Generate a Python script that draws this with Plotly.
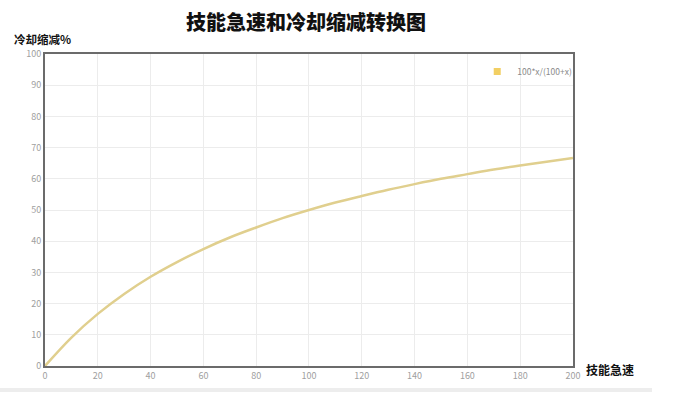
import plotly.graph_objects as go

x_vals = [0, 10, 20, 30, 40, 50, 60, 70, 80, 90, 100, 110, 120, 130, 140, 150, 160, 170, 180, 190, 200]
y_vals = [0, 9.1, 16.7, 23.1, 28.6, 33.3, 37.5, 41.2, 44.4, 47.4, 50.0, 52.4, 54.5, 56.5, 58.3, 60.0, 61.5, 63.0, 64.3, 65.5, 66.7]
series_name = "100*x/(100+x)"
title_text = "技能急速和冷却缩减转换图"
x_title = "技能急速"
y_title = "冷却缩减%"

W, H = 677, 400
L, R, T, B = 45, 573, 54, 366

font_cjk = "Noto Sans CJK SC, Noto Sans, sans-serif"

fig = go.Figure()
fig.add_trace(go.Scatter(
    x=x_vals, y=y_vals, mode="lines", line=dict(color="#e0cf8e", width=2.5, shape="spline"),
    showlegend=False, hoverinfo="x+y"))
fig.add_trace(go.Scatter(
    x=[None], y=[None], mode="markers", name=series_name,
    marker=dict(symbol="square", size=7, color="#f2cf63")))

axis_common = dict(
    showgrid=True, gridcolor="#ececec", gridwidth=1,
    showline=True, linecolor="#6b6b6b", linewidth=2, mirror=True,
    zeroline=False, ticks="", tickfont=dict(size=9, color="#a0a0a0", family=font_cjk),
)

fig.update_layout(
    width=W, height=H,
    margin=dict(l=L, r=W - R, t=T, b=H - B),
    paper_bgcolor="white", plot_bgcolor="white",
    xaxis=dict(range=[0, 200.01], tickvals=list(range(0, 201, 20)), **axis_common),
    yaxis=dict(range=[0, 100.01], tickvals=list(range(0, 101, 10)), **axis_common),
    legend=dict(x=1.008, y=0.99, xanchor="right", yanchor="top",
                bgcolor="rgba(0,0,0,0)", font=dict(size=8.5, color="#8a8a8a", family=font_cjk),
                itemwidth=30, tracegroupgap=0),
    showlegend=True,
)

def px_to_paper_x(px):
    return (px - L) / (R - L)

def px_to_paper_y(py):
    return (B - py) / (B - T)

fig.add_annotation(text=title_text, x=px_to_paper_x(306), y=px_to_paper_y(22),
                   xref="paper", yref="paper", showarrow=False, xanchor="center", yanchor="middle",
                   font=dict(size=20, color="#111111", family=font_cjk, weight=900))
fig.add_annotation(text="<b>" + y_title + "</b>", x=px_to_paper_x(12), y=px_to_paper_y(39),
                   xref="paper", yref="paper", showarrow=False, xanchor="left", yanchor="middle",
                   font=dict(size=11.5, color="#111111", family=font_cjk))
fig.add_annotation(text="<b>" + x_title + "</b>", x=px_to_paper_x(584), y=px_to_paper_y(369),
                   xref="paper", yref="paper", showarrow=False, xanchor="left", yanchor="middle",
                   font=dict(size=12, color="#111111", family=font_cjk))

fig.add_shape(type="rect", xref="paper", yref="paper",
              x0=px_to_paper_x(0), x1=px_to_paper_x(652),
              y0=px_to_paper_y(392), y1=px_to_paper_y(388),
              fillcolor="#ededed", line=dict(width=0), layer="below")

fig.write_html("out.html", config={"displayModeBar": False},
               post_script="document.body.style.margin='0';")
